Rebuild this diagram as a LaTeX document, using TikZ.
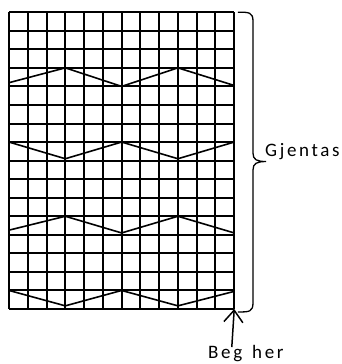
\documentclass[tikz,border=0pt]{standalone}
\usepackage{fontspec}
\setmainfont{Carlito}
\newfontfamily\labelfont[LetterSpace=14]{Carlito}
\usetikzlibrary{arrows.meta}

\begin{document}
\begin{tikzpicture}[x=18.77pt, y=18.55pt,
    gridline/.style={line width=2pt},
    zigzag/.style={line width=1.6pt, line join=miter},
    bracket/.style={line width=1.3pt},
    pointer/.style={line width=1.5pt, -{Straight Barb[length=12pt,width=19pt]}},
    lbl/.style={font=\labelfont\fontsize{19}{22}\selectfont, inner sep=0pt}]

      \useasboundingbox (-0.4795,-2.965) rectangle (17.741,16.658);

      % Grid, 12 columns and 16 rows
      \foreach \i in {0,...,12}
          \draw[gridline] (\i,0) -- (\i,16);
      \foreach \j in {0,...,16}
          \draw[gridline] (0,\j) -- (12,\j);

      % Zigzag rows
      \draw[zigzag] (0,12.2) -- (3,13) -- (6,12) -- (9,13) -- (12,12.05);   % row 4
      \draw[zigzag] (0,9) -- (3,8.1) -- (6,9) -- (9,8.1) -- (12,9);          % row 8
      \draw[zigzag] (0,4.25) -- (3,5) -- (6,4.1) -- (9,5) -- (12,4.1);      % row 12
      \draw[zigzag] (0,1) -- (3,0.17) -- (6,1) -- (9,0.17) -- (12,0.95);    % row 16

      % Brace for the repeat
      \draw[bracket] (12.2,16) .. controls (12.8,16) and (13,16) .. (13,15.5)
          -- (13,8.4) .. controls (13,8.05) and (13.2,7.95) .. (13.7,7.95)
          .. controls (13.2,7.95) and (13,7.85) .. (13,7.5)
          -- (13,0.35) .. controls (13,-0.16) and (12.8,-0.16) .. (12.2,-0.16);

      %node labels
      \node[lbl, anchor=base west] (repeat) at (13.64,8.21) {Gjentas};
      \node[lbl, anchor=base west] (start) at (10.6,-2.68) {Beg\kern10pt her};

      \coordinate (corner) at (12,0);
      \coordinate (tail) at (11.87,-2.05);
      \draw[pointer] (tail) -- (corner);

\end{tikzpicture}
\end{document}
